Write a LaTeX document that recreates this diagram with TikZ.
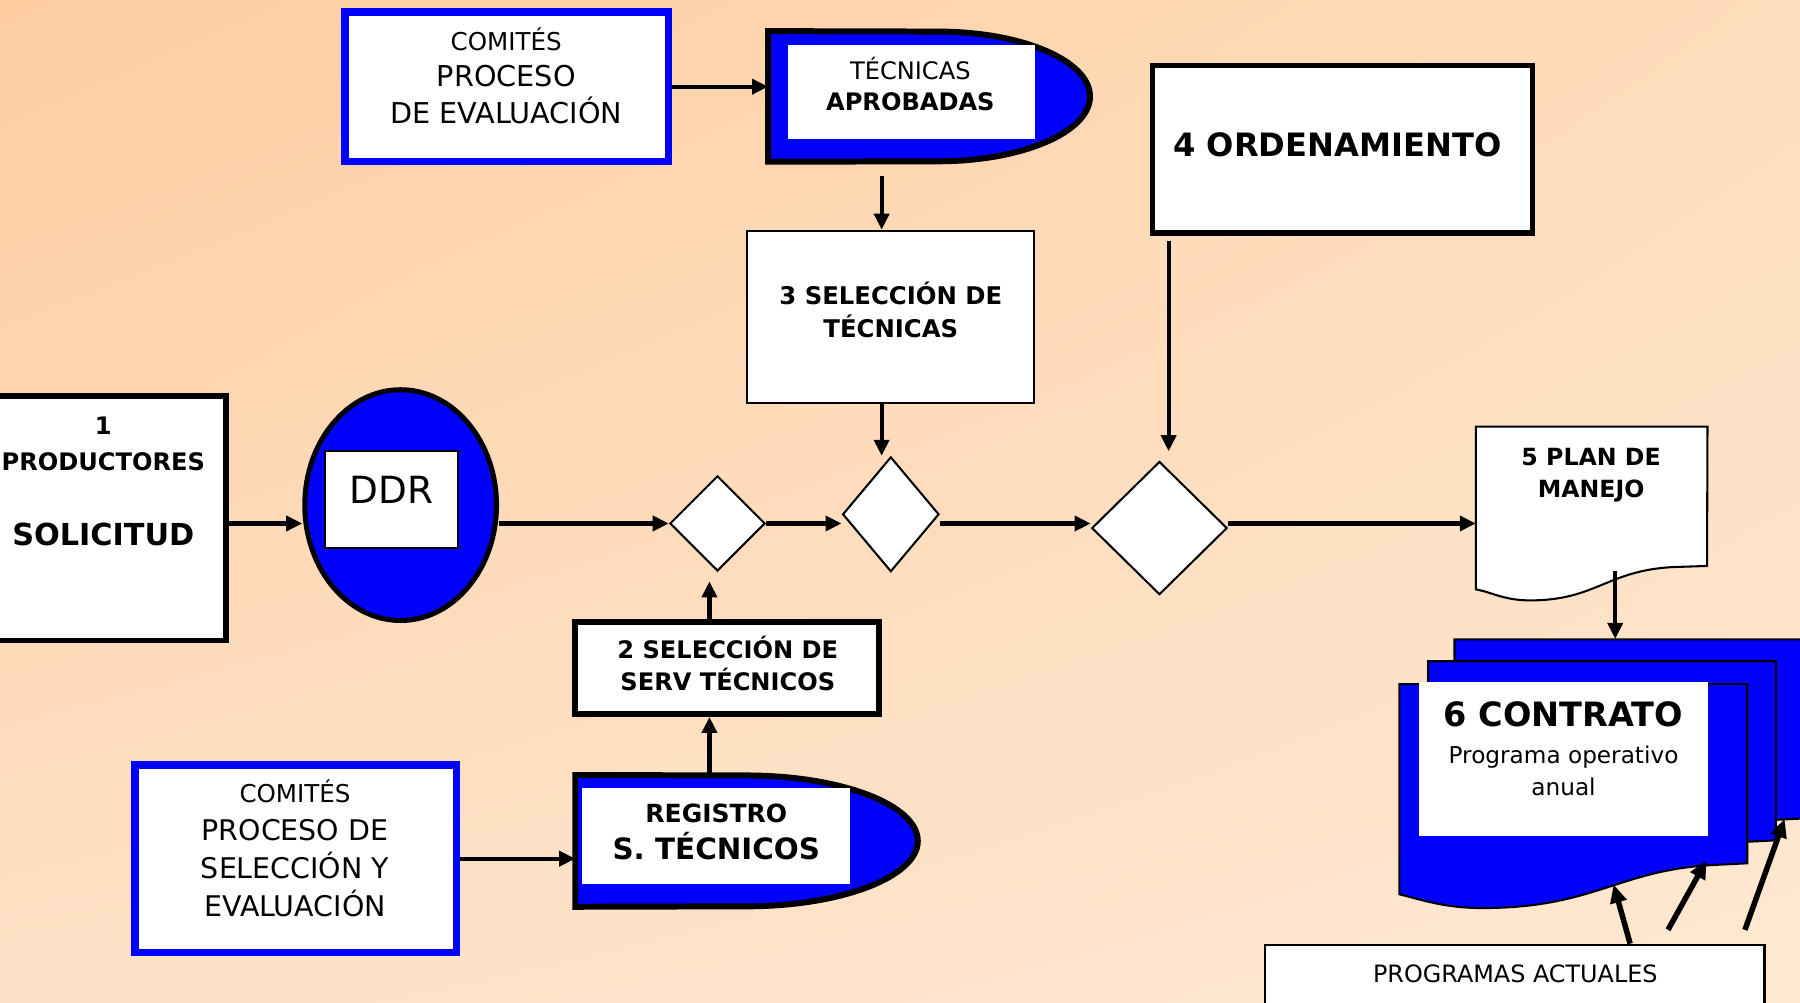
\documentclass[tikz,border=0pt]{standalone}
\usepackage{fontspec}
\setmainfont{DejaVu Sans}
\usepackage{xcolor}
\usepackage{tikz}
\usetikzlibrary{calc}
\usetikzlibrary{arrows.meta}
\usetikzlibrary{shapes.geometric}
\usetikzlibrary{shadings}
\definecolor{fondoA}{RGB}{253,205,160}
\definecolor{fondoB}{RGB}{254,221,188}
\definecolor{fondoC}{RGB}{254,225,198}
\definecolor{fondoD}{RGB}{255,232,210}
\definecolor{azul}{RGB}{0,0,255}
\newcommand{\tam}[2]{\fontsize{#1}{#2}\selectfont}

\begin{document}
\begin{tikzpicture}[x=0.5pt,y=-0.5pt,
	flecha/.style={-{Triangle[length=7pt,width=6.5pt]},line width=1.8pt},
	flechagr/.style={-{Triangle[length=8pt,width=7pt]},line width=2.4pt},
	bluebox/.style={draw=azul,line width=3.2pt,fill=white,inner sep=0pt},
	negrobox/.style={draw=black,line width=2.5pt,fill=white,inner sep=0pt},
	finobox/.style={draw=black,line width=0.9pt,fill=white,inner sep=0pt},
	blanco/.style={fill=white,inner sep=0pt},
	rombo/.style={diamond,draw=black,line width=0.9pt,fill=white,inner sep=0pt},
	hueco/.style={inner sep=0pt},
	texto/.style={inner sep=0pt,align=center},
	hoja/.style={draw=black,line width=0.9pt,fill=azul}]
	\useasboundingbox (0,0) rectangle (1568,873);
	\shade[upper left=fondoA,upper right=fondoB,lower left=fondoC,lower right=fondoD] (0,0) rectangle (1568,873);
	\coordinate (eje) at (0,456);
	\coordinate (c2) at (618,0);
	\coordinate (c3) at (768,0);
	\coordinate (c4) at (1018,0);
	\coordinate (c5) at (1407,0);

	\node[bluebox,minimum width=141pt,minimum height=65pt] (comsup) at (441.5,75.5) {};
	\node[texto,font=\tam{12.5pt}{16pt}] (tcomsup) at (441,66) {{\tam{10.7pt}{16pt}COMITÉS}\\PROCESO\\DE EVALUACIÓN};

	\node[hueco,minimum width=140pt,minimum height=56.5pt] (aprob) at (809.5,84) {};
	\draw[line width=2.6pt,fill=azul] (aprob.north west) -- (817,27.5) arc[start angle=-90,end angle=90,x radius=132.5,y radius=56.5] -- (aprob.south west) -- cycle;
	\node[blanco,minimum width=108pt,minimum height=41pt] (tecapr) at (794,80) {};
	\node[texto,font=\tam{10.5pt}{13.5pt}] (ttecapr) at (793,73.5) {TÉCNICAS\\\textbf{APROBADAS}};

	\node[negrobox,minimum width=165.5pt,minimum height=73pt] (ord) at (1169.5,130) {};
	\node[texto,font=\bfseries\tam{14pt}{16pt}] (tord) at (1165,126) {4 ORDENAMIENTO};

	\node[finobox,minimum width=125pt,minimum height=75pt] (sel3) at (776,276) {};
	\node[texto,font=\bfseries\tam{10.6pt}{14pt}] (tsel3) at (776,270) {3 SELECCIÓN DE\\TÉCNICAS};

	\node[negrobox,minimum width=103.5pt,minimum height=106.5pt] (prod) at (93.5,451.5) {};
	\node[texto,font=\bfseries\tam{10.5pt}{15.5pt}] (tprod) at (90,419.5) {1\\PRODUCTORES\\[17.5pt]{\tam{13.2pt}{15.5pt}SOLICITUD}};

	\node[ellipse,draw=black,line width=2.2pt,fill=azul,inner sep=0pt,minimum width=83.5pt,minimum height=100.5pt] (ddr) at (349,440) {};
	\node[finobox,minimum width=58pt,minimum height=42pt] (ddrin) at (341,435) {};
	\node[texto,font=\tam{16.3pt}{18pt}] (tddr) at (341,427) {DDR};

	\node[rombo,minimum width=41.5pt,minimum height=41.5pt] (d1) at (625,456) {};
	\node[rombo,minimum width=42pt,minimum height=50pt] (d2) at (776,448) {};
	\node[rombo,minimum width=59pt,minimum height=58pt] (d3) at (1010,460) {};

	\node[negrobox,minimum width=132.5pt,minimum height=40pt] (sel2) at (633.5,582) {};
	\node[texto,font=\bfseries\tam{10.5pt}{14pt}] (tsel2) at (634,578) {2 SELECCIÓN DE\\SERV TÉCNICOS};

	\node[hueco,minimum width=149pt,minimum height=57pt] (reg) at (650.5,732.5) {};
	\draw[line width=2.6pt,fill=azul] (reg.north west) -- (650,675.5) arc[start angle=-90,end angle=90,x radius=149.5,y radius=57] -- (reg.south west) -- cycle;
	\node[blanco,minimum width=116.5pt,minimum height=42pt] (regin) at (623.5,728) {};
	\node[texto,font=\bfseries\tam{10.9pt}{16.2pt}] (treg) at (624,725) {REGISTRO\\{\tam{12.8pt}{16.2pt}S. TÉCNICOS}};

	\node[bluebox,minimum width=140pt,minimum height=81.5pt] (cominf) at (257.5,748) {};
	\node[texto,font=\tam{12.4pt}{16.5pt}] (tcominf) at (257,739) {{\tam{10.7pt}{16.5pt}COMITÉS}\\PROCESO DE\\SELECCIÓN Y\\EVALUACIÓN};

	\node[hueco,minimum width=100.5pt,minimum height=70.5pt] (plan) at (1386.5,442.5) {};
	\draw[finobox] (plan.north west) -- (plan.north east) -- (1487,493) -- (1457,494) .. controls (1400,497) and (1390,523) .. (1333,523) .. controls (1310,523) and (1300,516) .. (plan.south west) -- cycle;
	\node[texto,font=\bfseries\tam{10.3pt}{14pt}] (tplan) at (1386,414) {5 PLAN DE\\MANEJO};

	\foreach \dx/\dy/\nom in {1267/557/hoja1,1244/576/hoja2,1219/596/hoja3}{
		\begin{scope}[shift={(\dx,\dy)}]
			\draw[hoja] (0,0) -- (303,0) -- (303,156) -- (273,157.5) .. controls (190,162) and (170,195) .. (72,195) .. controls (40,195) and (20,188) .. (0,183) -- cycle;
			\node[hueco,minimum width=151.5pt,minimum height=78pt] (\nom) at (151.5,78) {};
		\end{scope}
	}
	\node[blanco,minimum width=126pt,minimum height=67pt] (contin) at (1362,661.5) {};
	\node[texto,font=\tam{10.1pt}{14pt}] (tcont) at (1362,652) {{\bfseries\tam{14.6pt}{16pt}6 CONTRATO}\\[2pt]Programa operativo\\anual};

	\node[finobox,line width=1pt,minimum width=217.5pt,minimum height=63.5pt] (prog) at (1319.5,886.5) {};
	\node[texto,font=\tam{10.4pt}{12pt}] (tprog) at (1320,848) {PROGRAMAS ACTUALES};

	\draw[flecha] (comsup.east) -- (comsup.east -| aprob.west);
	\draw[flecha,shorten <=6pt] (c3 |- aprob.south) -- (c3 |- sel3.north);
	\draw[flecha] (c3 |- sel3.south) -- (c3 |- d2.north);
	\draw[flecha,shorten <=2pt,shorten >=4pt] (c4 |- ord.south) -- (c4 |- d3.north);
	\draw[flecha] (prod.east |- eje) -- (ddr.west |- eje);
	\draw[flecha] (ddr.east |- eje) -- (d1.west);
	\draw[flecha] (d1.east) -- (d2.west |- eje);
	\draw[flecha] (d2.east |- eje) -- (d3.west |- eje);
	\draw[flecha] (d3.east |- eje) -- (plan.west |- eje);
	\draw[flecha,shorten >=4pt] (c2 |- sel2.north) -- (c2 |- d1.south);
	\draw[flecha] (c2 |- reg.north) -- (c2 |- sel2.south);
	\draw[flecha] (cominf.east) -- (cominf.east -| reg.west);
	\draw[flecha,shorten <=-8pt] (c5 |- plan.south) -- (c5 |- hoja1.north);
	\draw[flechagr] ($(prog.north)+(100.5,0)$) -- ($(hoja3.south west)+(187,18)$);
	\draw[flechagr] ($(prog.north)+(133.5,-12)$) -- ($(hoja3.south west)+(268,-3)$);
	\draw[flechagr] ($(prog.north)+(200.5,-12)$) -- ($(hoja1.south west)+(288,0)$);
\end{tikzpicture}
\end{document}
